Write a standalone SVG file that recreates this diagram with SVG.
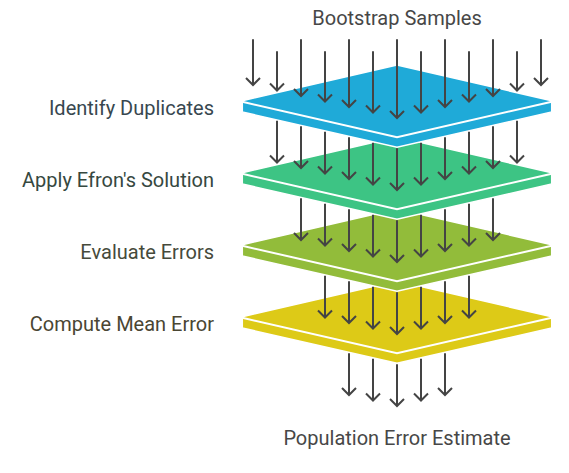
<svg xmlns="http://www.w3.org/2000/svg" width="569" height="473" viewBox="0 0 569 473">
<style>
text{font-family:Roboto,"Liberation Sans",sans-serif;font-size:20px}
.lbl{text-anchor:end}
.ttl{text-anchor:middle;fill:#474747}
.plate{stroke:#fff;stroke-width:1.5;stroke-linejoin:miter}
.sep{fill:none;stroke:#fff;stroke-width:2}
.arr{fill:none;stroke:#444;stroke-width:2;marker-end:url(#chev)}
</style>
<defs>
<marker id="chev" markerUnits="userSpaceOnUse" markerWidth="20" markerHeight="20" viewBox="-12 -10 20 20" refX="0" refY="0" orient="auto">
<path d="M-7,-7 L0,0 L-7,7" fill="none" stroke="#444" stroke-width="2"/>
</marker>
<path id="plateShape" d="M242.3,100.7 L397,65 L551.7,100.7 L551.7,112 L397,147.3 L242.3,112 Z"/>
</defs>

<g id="compute-mean-error" transform="translate(0,216)">
<use href="#plateShape" class="plate" fill="#DDCA17"/>
<path class="sep" d="M242.3,101.8 L397,137.1 L551.7,101.8"/>
</g>
<g id="evaluate-errors" transform="translate(0,144)">
<use href="#plateShape" class="plate" fill="#92BC3A"/>
<path class="sep" d="M242.3,101.8 L397,137.1 L551.7,101.8"/>
</g>
<g id="apply-efrons-solution" transform="translate(0,72)">
<use href="#plateShape" class="plate" fill="#3DC484"/>
<path class="sep" d="M242.3,101.8 L397,137.1 L551.7,101.8"/>
</g>
<g id="identify-duplicates">
<use href="#plateShape" class="plate" fill="#1FAAD8"/>
<path class="sep" d="M242.3,101.8 L397,137.1 L551.7,101.8"/>
</g>

<g id="connectors">
<path class="arr" d="M253,39.3 V85"/>
<path class="arr" d="M277,51.3 V90.5"/>
<path class="arr" d="M301,39.3 V96"/>
<path class="arr" d="M325,51.3 V101.5"/>
<path class="arr" d="M349,39.3 V107"/>
<path class="arr" d="M373,51.3 V112.5"/>
<path class="arr" d="M397,39.3 V118"/>
<path class="arr" d="M421,51.3 V112.5"/>
<path class="arr" d="M445,39.3 V107"/>
<path class="arr" d="M469,51.3 V101.5"/>
<path class="arr" d="M493,39.3 V96"/>
<path class="arr" d="M517,51.3 V90.5"/>
<path class="arr" d="M541,39.3 V85"/>

<path class="arr" d="M277,120.8 V162.5"/>
<path class="arr" d="M301,126.3 V168"/>
<path class="arr" d="M325,131.8 V173.5"/>
<path class="arr" d="M349,137.3 V179"/>
<path class="arr" d="M373,142.8 V184.5"/>
<path class="arr" d="M397,148.3 V190"/>
<path class="arr" d="M421,142.8 V184.5"/>
<path class="arr" d="M445,137.3 V179"/>
<path class="arr" d="M469,131.8 V173.5"/>
<path class="arr" d="M493,126.3 V168"/>
<path class="arr" d="M517,120.8 V162.5"/>

<path class="arr" d="M301,198.3 V240"/>
<path class="arr" d="M325,203.8 V245.5"/>
<path class="arr" d="M349,209.3 V251"/>
<path class="arr" d="M373,214.8 V256.5"/>
<path class="arr" d="M397,220.3 V262"/>
<path class="arr" d="M421,214.8 V256.5"/>
<path class="arr" d="M445,209.3 V251"/>
<path class="arr" d="M469,203.8 V245.5"/>
<path class="arr" d="M493,198.3 V240"/>

<path class="arr" d="M325,275.8 V317.5"/>
<path class="arr" d="M349,281.3 V323"/>
<path class="arr" d="M373,286.8 V328.5"/>
<path class="arr" d="M397,292.3 V334"/>
<path class="arr" d="M421,286.8 V328.5"/>
<path class="arr" d="M445,281.3 V323"/>
<path class="arr" d="M469,275.8 V317.5"/>

<path class="arr" d="M349,353.3 V395"/>
<path class="arr" d="M373,358.8 V400.5"/>
<path class="arr" d="M397,364.3 V406"/>
<path class="arr" d="M421,358.8 V400.5"/>
<path class="arr" d="M445,353.3 V395"/>
</g>

<g id="labels">
<text class="ttl" x="397" y="25">Bootstrap Samples</text>
<text class="lbl" x="214" y="114.5" fill="#37474F">Identify Duplicates</text>
<text class="lbl" x="214" y="186.5" fill="#36483F">Apply Efron's Solution</text>
<text class="lbl" x="214" y="258.5" fill="#464A3B">Evaluate Errors</text>
<text class="lbl" x="214" y="330.5" fill="#4A4633">Compute Mean Error</text>
<text class="ttl" x="397" y="445">Population Error Estimate</text>
</g>
</svg>
